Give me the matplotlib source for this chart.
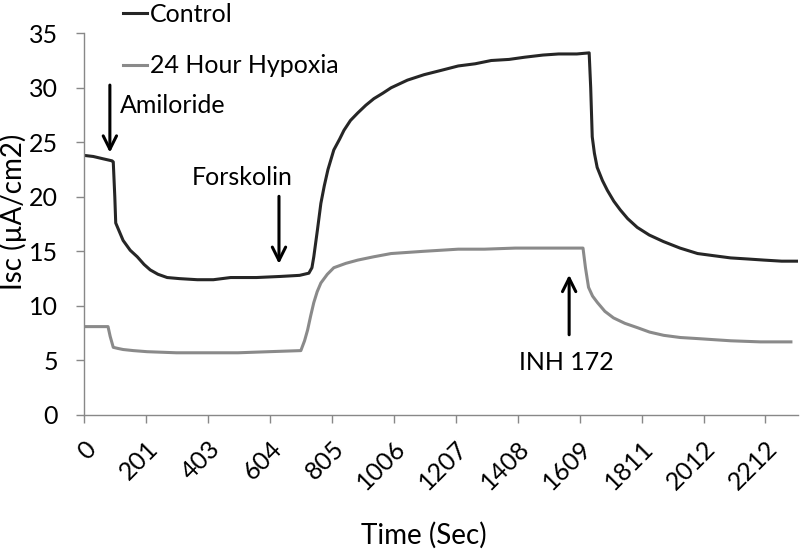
import matplotlib.pyplot as plt
import matplotlib.transforms as mtransforms

# values (time in sec, Isc in uA/cm2)
control_t = [0, 30, 60, 91, 95, 100, 103, 115, 127, 150, 173, 195, 215, 240, 270, 310, 368, 420, 476, 560,
             638, 700, 730, 740, 746, 758, 769, 780, 792, 811, 830, 844, 865, 889, 915, 941, 970, 997, 1050,
             1104, 1160, 1215, 1270, 1322, 1380, 1430, 1490, 1541, 1600, 1640, 1645, 1650, 1657, 1666, 1683,
             1699, 1720, 1741, 1765, 1796, 1835, 1881, 1935, 1992, 2045, 2099, 2155, 2207, 2265, 2315]
control_y = [23.8, 23.7, 23.5, 23.3, 23.2, 20.0, 17.6, 16.8, 16.0, 15.1, 14.5, 13.8, 13.3, 12.9, 12.6, 12.5,
             12.4, 12.4, 12.6, 12.6, 12.7, 12.8, 13.0, 13.5, 14.5, 17.0, 19.4, 21.0, 22.5, 24.3, 25.3, 26.1,
             27.0, 27.7, 28.4, 29.0, 29.5, 30.0, 30.7, 31.2, 31.6, 32.0, 32.2, 32.5, 32.6, 32.8, 33.0, 33.1,
             33.1, 33.2, 30.0, 25.5, 24.0, 22.7, 21.5, 20.6, 19.6, 18.8, 18.0, 17.2, 16.5, 15.9, 15.3, 14.8,
             14.6, 14.4, 14.3, 14.2, 14.1, 14.1]

hypoxia_t = [0, 40, 78, 85, 95, 110, 127, 160, 205, 300, 400, 500, 600, 704, 716, 726, 736, 746, 757, 769,
             790, 811, 850, 889, 940, 997, 1100, 1215, 1300, 1400, 1500, 1620, 1628, 1638, 1651, 1667, 1691,
             1719, 1756, 1797, 1836, 1882, 1936, 1993, 2046, 2100, 2196, 2295]
hypoxia_y = [8.1, 8.1, 8.1, 7.2, 6.2, 6.1, 6.0, 5.9, 5.8, 5.7, 5.7, 5.7, 5.8, 5.9, 6.8, 7.8, 9.1, 10.3, 11.3,
             12.1, 12.9, 13.5, 13.9, 14.2, 14.5, 14.8, 15.0, 15.2, 15.2, 15.3, 15.3, 15.3, 13.5, 11.7, 10.9,
             10.3, 9.5, 8.9, 8.4, 8.0, 7.6, 7.3, 7.1, 7.0, 6.9, 6.8, 6.7, 6.7]

tick_pos = [0, 201, 403, 604, 805, 1006, 1207, 1408, 1609, 1811, 2012, 2212]
tick_labels = ['0', '201', '403', '604', '805', '1006', '1207', '1408', '1609', '1811', '2012', '2212']

plt.rcParams['font.family'] = ['Lato', 'DejaVu Sans']
fs = 18
axis_gray = '#888888'

fig = plt.figure(figsize=(8, 5.54), dpi=100)
ax = fig.add_axes([0.105, 0.251, 0.8925, 0.689])

ax.plot(control_t, control_y, color='#262626', lw=2.2, label='Control')
ax.plot(hypoxia_t, hypoxia_y, color='#8a8a8a', lw=2.2, label='24 Hour Hypoxia')

ax.set_xlim(0, 2318)
ax.set_ylim(0, 35)
ax.set_yticks(range(0, 36, 5))
ax.set_xticks(tick_pos)
ax.set_xticklabels(tick_labels, rotation=45, ha='right', va='top', rotation_mode='anchor')
shift = mtransforms.ScaledTranslation(-1 / 100, 0, fig.dpi_scale_trans)
for lab in ax.get_xticklabels():
    lab.set_transform(lab.get_transform() + shift)

for s in ['top', 'right']:
    ax.spines[s].set_visible(False)
for s in ['left', 'bottom']:
    ax.spines[s].set_color(axis_gray)
    ax.spines[s].set_linewidth(1.0)
ax.tick_params(axis='both', colors=axis_gray, labelcolor='black', labelsize=fs, length=5.8, width=1.0)
ax.tick_params(axis='x', pad=10)
ax.tick_params(axis='y', pad=13)

ax.set_xlabel('Time (Sec)', fontsize=20)
ax.xaxis.set_label_coords(0.476, -0.28)
ax.set_ylabel('Isc (µA/cm2)', fontsize=20)
ax.yaxis.set_label_coords(-0.08, 0.531)

# annotation arrows
arrow = dict(arrowstyle='->', color='black', lw=2.2, mutation_scale=24)
ax.annotate('', xy=(84, 23.8), xytext=(84, 30.5), arrowprops=arrow)
ax.text(117, 28.4, 'Amiloride', fontsize=fs, va='center', ha='left')
ax.annotate('', xy=(633, 13.6), xytext=(633, 20.3), arrowprops=arrow)
ax.text(513, 21.8, 'Forskolin', fontsize=fs, va='center', ha='center')
ax.annotate('', xy=(1575, 13.1), xytext=(1575, 7.1), arrowprops=arrow)
ax.text(1565, 4.8, 'INH 172', fontsize=fs, va='center', ha='center')

ax.legend(loc='upper left', bbox_to_anchor=(0.154, 0.995), bbox_transform=fig.transFigure,
          frameon=False, fontsize=fs, handlelength=0.96, handletextpad=0.12, labelspacing=1.14,
          borderpad=0, borderaxespad=0)

fig.savefig('out.png', dpi=100)
